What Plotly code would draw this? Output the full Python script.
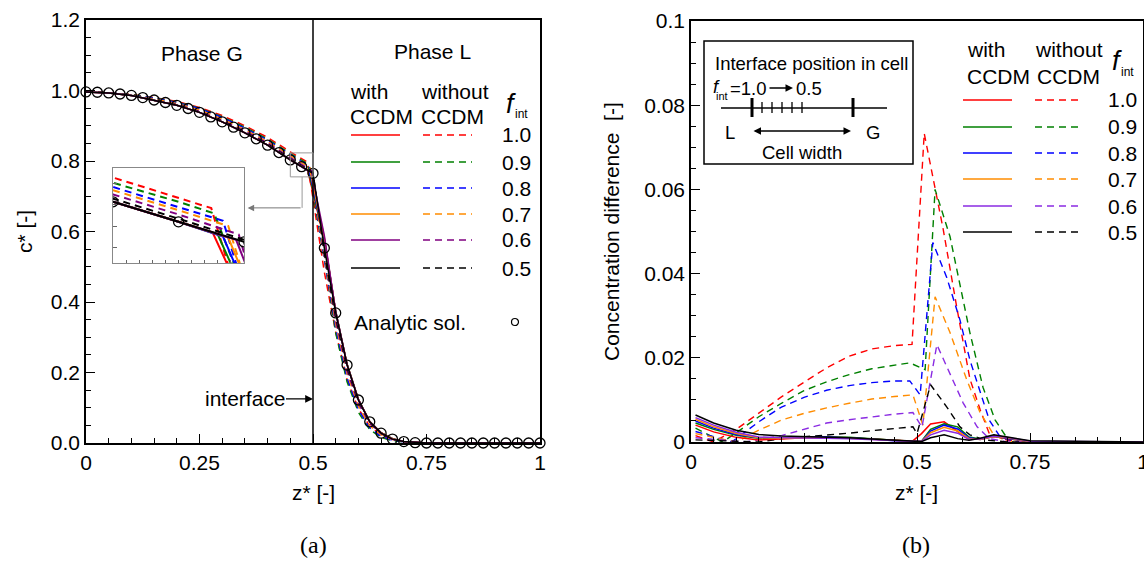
import plotly.graph_objects as go

W, H = 1144, 561
SANS = "Liberation Sans, Arial, sans-serif"
SERIF = "Liberation Serif, Times New Roman, serif"
FS = 21

# ------------------------------------------------------------------ data
f_int_labels = ["1.0", "0.9", "0.8", "0.7", "0.6", "0.5"]
colors_a = ["#ff0000", "#008000", "#0000ff", "#ff8c00", "#800080", "#000000"]
colors_b = ["#ff0000", "#008000", "#0000ff", "#ff8c00", "#8a2be2", "#000000"]

# (a) analytic solution
z_analytic = [0, 0.025, 0.05, 0.075, 0.1, 0.125, 0.15, 0.175, 0.2, 0.225, 0.25,
              0.275, 0.3, 0.325, 0.35, 0.375, 0.4, 0.425, 0.45, 0.475, 0.5,
              0.525, 0.55, 0.575, 0.6, 0.625, 0.65, 0.675, 0.7, 0.725, 0.75,
              0.775, 0.8, 0.825, 0.85, 0.875, 0.9, 0.925, 0.95, 0.975, 1.0]
c_analytic = [0.996, 0.995, 0.993, 0.990, 0.986, 0.980, 0.973, 0.966, 0.958, 0.949, 0.938,
              0.925, 0.911, 0.896, 0.880, 0.863, 0.845, 0.824, 0.803, 0.784, 0.765,
              0.553, 0.369, 0.221, 0.122, 0.060, 0.028, 0.011, 0.004, 0.001, 0.0,
              0.0, 0.0, 0.0, 0.0, 0.0, 0.0, 0.0, 0.0, 0.0, 0.0]

# (a) simulations: gas-side grid, interface kink, liquid-side grid
z_gas_a = [0, 0.05, 0.1, 0.15, 0.2, 0.25, 0.3, 0.35, 0.4, 0.45, 0.475]
z_liq_a = [0.525, 0.55, 0.575, 0.6, 0.625, 0.65, 0.675, 0.7, 0.75, 1.0]

c_gas_solid = [0.996, 0.993, 0.986, 0.973, 0.958, 0.938, 0.911, 0.880, 0.845, 0.803, 0.784]
kink_z_solid = [0.488, 0.490, 0.492, 0.494, 0.497, 0.500]
kink_c_solid = [0.774, 0.772, 0.770, 0.769, 0.767, 0.765]
c_liq_solid = [
    [0.575, 0.374, 0.224, 0.124, 0.061, 0.029, 0.012, 0.004, 0.0, 0.0],
    [0.578, 0.373, 0.224, 0.124, 0.061, 0.029, 0.012, 0.004, 0.0, 0.0],
    [0.580, 0.373, 0.223, 0.123, 0.061, 0.029, 0.012, 0.004, 0.0, 0.0],
    [0.583, 0.372, 0.223, 0.123, 0.061, 0.029, 0.012, 0.004, 0.0, 0.0],
    [0.588, 0.372, 0.222, 0.123, 0.060, 0.028, 0.011, 0.004, 0.0, 0.0],
    [0.553, 0.370, 0.222, 0.122, 0.060, 0.028, 0.011, 0.004, 0.0, 0.0],
]

c_gas_dash = [
    [0.997, 0.993, 0.989, 0.980, 0.969, 0.952, 0.929, 0.900, 0.867, 0.826, 0.807],
    [0.999, 0.993, 0.988, 0.979, 0.967, 0.950, 0.925, 0.896, 0.862, 0.821, 0.803],
    [0.998, 0.994, 0.987, 0.978, 0.966, 0.949, 0.923, 0.893, 0.859, 0.817, 0.798],
    [0.998, 0.994, 0.986, 0.976, 0.963, 0.945, 0.919, 0.889, 0.855, 0.814, 0.795],
    [0.997, 0.993, 0.986, 0.973, 0.960, 0.941, 0.915, 0.885, 0.851, 0.810, 0.791],
    [0.997, 0.993, 0.986, 0.973, 0.959, 0.939, 0.913, 0.882, 0.848, 0.806, 0.787],
]
kink_z_dash = [0.4875, 0.4886, 0.492, 0.494, 0.498, 0.500]
kink_c_dash = [0.797, 0.792, 0.785, 0.780, 0.772, 0.767]
c_liq_dash = [
    [0.485, 0.315, 0.179, 0.097, 0.048, 0.023, 0.010, 0.004, 0.0, 0.0],
    [0.523, 0.312, 0.174, 0.087, 0.038, 0.016, 0.006, 0.003, 0.0, 0.0],
    [0.518, 0.326, 0.185, 0.095, 0.043, 0.019, 0.008, 0.0035, 0.0, 0.0],
    [0.532, 0.337, 0.197, 0.104, 0.049, 0.023, 0.0095, 0.004, 0.0, 0.0],
    [0.541, 0.348, 0.205, 0.112, 0.055, 0.0265, 0.0106, 0.004, 0.0, 0.0],
    [0.539, 0.358, 0.214, 0.119, 0.059, 0.0275, 0.011, 0.004, 0.0, 0.0],
]

# (b) concentration difference
z_dash_b = [
    [0.01, 0.05, 0.1, 0.15, 0.2, 0.25, 0.3, 0.35, 0.4, 0.45, 0.489, 0.516, 0.535, 0.558, 0.588, 0.617, 0.64, 0.66, 0.7, 0.75, 1.0],
    [0.01, 0.07, 0.1, 0.15, 0.2, 0.25, 0.3, 0.35, 0.4, 0.45, 0.484, 0.518, 0.54, 0.573, 0.595, 0.617, 0.646, 0.673, 0.7, 0.75, 1.0],
    [0.01, 0.09, 0.15, 0.2, 0.25, 0.3, 0.35, 0.4, 0.45, 0.484, 0.507, 0.535, 0.566, 0.595, 0.617, 0.64, 0.66, 0.684, 0.72, 1.0],
    [0.01, 0.1, 0.15, 0.2, 0.25, 0.3, 0.35, 0.4, 0.45, 0.491, 0.513, 0.54, 0.573, 0.61, 0.64, 0.668, 0.7, 1.0],
    [0.01, 0.12, 0.2, 0.25, 0.3, 0.35, 0.4, 0.45, 0.491, 0.511, 0.544, 0.573, 0.602, 0.633, 0.66, 0.7, 1.0],
    [0.01, 0.15, 0.2, 0.25, 0.3, 0.35, 0.4, 0.45, 0.491, 0.5, 0.53, 0.566, 0.595, 0.617, 0.65, 0.7, 1.0],
]
d_dash_b = [
    [0.0015, 0.0, 0.003, 0.0068, 0.0107, 0.0142, 0.0176, 0.0204, 0.0221, 0.0229, 0.0232, 0.0733, 0.063, 0.0505, 0.032, 0.015, 0.0076, 0.002, 0.0004, 0.0, 0.0],
    [0.0033, 0.0, 0.0022, 0.006, 0.0092, 0.0122, 0.0143, 0.016, 0.0174, 0.0183, 0.0188, 0.0172, 0.060, 0.0488, 0.037, 0.026, 0.013, 0.0052, 0.0008, 0.0, 0.0],
    [0.0025, 0.0, 0.0048, 0.0083, 0.0106, 0.0123, 0.0134, 0.0141, 0.0145, 0.0145, 0.0112, 0.0474, 0.039, 0.029, 0.0195, 0.0117, 0.0052, 0.0012, 0.0, 0.0],
    [0.002, 0.0, 0.0028, 0.0052, 0.0068, 0.0081, 0.0092, 0.0102, 0.0108, 0.0112, 0.004, 0.0345, 0.026, 0.0148, 0.0069, 0.002, 0.0, 0.0],
    [0.001, 0.0, 0.0015, 0.003, 0.0045, 0.0053, 0.006, 0.0066, 0.007, 0.0035, 0.0231, 0.0164, 0.0093, 0.0036, 0.0008, 0.0, 0.0],
    [0.0005, 0.0, 0.0008, 0.0012, 0.0016, 0.0021, 0.0027, 0.0032, 0.0036, 0.002, 0.0136, 0.0083, 0.0036, 0.0017, 0.0005, 0.0, 0.0],
]
z_solid_b = [0.01, 0.05, 0.1, 0.15, 0.2, 0.25, 0.3, 0.35, 0.4, 0.45, 0.49, 0.51, 0.53, 0.56, 0.59, 0.615, 0.64, 0.67, 0.7, 0.75, 1.0]
d_solid_b = [
    [0.0040, 0.0024, 0.0011, 0.0005, 0.0007, 0.0010, 0.0011, 0.0010, 0.0007, 0.0004, 0.0002, 0.0020, 0.0043, 0.0048, 0.0026, 0.0006, 0.0008, 0.0013, 0.0008, 0.0001, 0.0],
    [0.0045, 0.0030, 0.0016, 0.0009, 0.0010, 0.0012, 0.0012, 0.0011, 0.0008, 0.0004, 0.0001, 0.0002, 0.0030, 0.0043, 0.0036, 0.0012, 0.0007, 0.0014, 0.0009, 0.0001, 0.0],
    [0.0050, 0.0033, 0.0018, 0.0010, 0.0010, 0.0012, 0.0012, 0.0010, 0.0007, 0.0003, 0.0001, 0.0001, 0.0026, 0.0040, 0.0031, 0.0010, 0.0006, 0.0013, 0.0009, 0.0001, 0.0],
    [0.0054, 0.0036, 0.0020, 0.0010, 0.0009, 0.0010, 0.0010, 0.0009, 0.0006, 0.0003, 0.0001, 0.0001, 0.0022, 0.0035, 0.0026, 0.0008, 0.0006, 0.0013, 0.0010, 0.0001, 0.0],
    [0.0058, 0.0040, 0.0023, 0.0012, 0.0010, 0.0010, 0.0009, 0.0008, 0.0006, 0.0003, 0.0001, 0.0001, 0.0017, 0.0028, 0.0021, 0.0006, 0.0007, 0.0014, 0.0011, 0.0002, 0.0],
    [0.0064, 0.0045, 0.0028, 0.0018, 0.0014, 0.0013, 0.0012, 0.0010, 0.0007, 0.0004, 0.0001, 0.0001, 0.0010, 0.0017, 0.0008, 0.0004, 0.0009, 0.0017, 0.0012, 0.0003, 0.0],
]

# ------------------------------------------------------------------ helpers
def X(px):
    return px / W


def Y(py):
    return 1 - py / H


DASH = "7px,5px"
fig = go.Figure()

# ---- (a) main + inset traces
for ax_x, ax_y, lw in (("x", "y", 1.5), ("x2", "y2", 2.0)):
    for i in range(6):
        fig.add_trace(go.Scatter(
            x=z_gas_a + [kink_z_dash[i]] + z_liq_a,
            y=c_gas_dash[i] + [kink_c_dash[i]] + c_liq_dash[i],
            mode="lines", xaxis=ax_x, yaxis=ax_y,
            line=dict(color=colors_a[i], width=lw, dash=DASH)))
    for i in range(6):
        fig.add_trace(go.Scatter(
            x=z_gas_a + [kink_z_solid[i]] + z_liq_a,
            y=c_gas_solid + [kink_c_solid[i]] + c_liq_solid[i],
            mode="lines", xaxis=ax_x, yaxis=ax_y,
            line=dict(color=colors_a[i], width=lw)))
    fig.add_trace(go.Scatter(
        x=z_analytic, y=c_analytic, mode="markers", xaxis=ax_x, yaxis=ax_y,
        cliponaxis=(ax_x == "x2"),
        marker=dict(symbol="circle-open", size=10, color="black",
                    line=dict(width=1.3, color="black"))))

# ---- (b) traces
for i in range(6):
    fig.add_trace(go.Scatter(
        x=z_dash_b[i], y=d_dash_b[i], mode="lines", xaxis="x3", yaxis="y3",
        line=dict(color=colors_b[i], width=1.4, dash=DASH)))
for i in range(6):
    fig.add_trace(go.Scatter(
        x=z_solid_b, y=d_solid_b[i], mode="lines", xaxis="x3", yaxis="y3",
        line=dict(color=colors_b[i], width=1.5)))

# ------------------------------------------------------------------ axes
tickfont = dict(family=SANS, size=FS, color="black")
common = dict(showgrid=False, zeroline=False, showline=True, linecolor="black",
              linewidth=1.5, mirror=True, ticks="inside", tickcolor="black",
              tickwidth=1.2, tickfont=tickfont, automargin=False,
              ticklabeloverflow="allow")
minor_x = dict(dtick=0.05, ticks="inside", ticklen=5, tickcolor="black", tickwidth=1.2)
inset_common = dict(showticklabels=False, showgrid=False, zeroline=False, showline=True,
                    linecolor="#888888", linewidth=1, mirror=True, ticks="inside",
                    tickcolor="#666666", tickwidth=1, automargin=False)

fig.update_layout(
    width=W, height=H, margin=dict(l=0, r=0, t=0, b=0, autoexpand=False),
    paper_bgcolor="white", plot_bgcolor="white", showlegend=False,
    xaxis=dict(domain=[X(86), X(540)], range=[0, 1], dtick=0.25, ticklen=9,
               minor=minor_x, anchor="y", **common),
    yaxis=dict(domain=[Y(443), Y(20)], range=[0, 1.2], dtick=0.2, ticklen=9,
               tickformat=".1f",
               minor=dict(dtick=0.05, ticks="inside", ticklen=5, tickcolor="black", tickwidth=1.2),
               anchor="x", **common),
    xaxis2=dict(domain=[X(113), X(244)], range=[0.45, 0.5], dtick=0.005, ticklen=3,
                anchor="y2", **inset_common),
    yaxis2=dict(domain=[Y(263), Y(168)], range=[0.745, 0.835], dtick=0.02, ticklen=4,
                anchor="x2", **inset_common),
    xaxis3=dict(domain=[X(691), X(1143)], range=[0, 1], dtick=0.25, ticklen=9,
                minor=minor_x, anchor="y3", **common),
    yaxis3=dict(domain=[Y(442), Y(21)], range=[0, 0.1], dtick=0.02, ticklen=9,
                minor=dict(dtick=0.005, ticks="inside", ticklen=5, tickcolor="black", tickwidth=1.2),
                anchor="x3", **common),
)

shapes = []
ann = []


def line_px(x0, y0, x1, y1, color="black", width=1.5, dash=None):
    d = dict(type="line", xref="paper", yref="paper", x0=X(x0), y0=Y(y0), x1=X(x1), y1=Y(y1),
             line=dict(color=color, width=width))
    if dash:
        d["line"]["dash"] = dash
    shapes.append(d)


def text_px(x, y, s, size=FS, xanchor="center", family=SANS, angle=0):
    ann.append(dict(x=X(x), y=Y(y), xref="paper", yref="paper", text=s, showarrow=False,
                    xanchor=xanchor, yanchor="middle", textangle=angle,
                    font=dict(family=family, size=size, color="black")))


# interface line in (a)
shapes.append(dict(type="line", xref="x", yref="y", x0=0.5, x1=0.5, y0=0, y1=1.2,
                   line=dict(color="black", width=1.5)))
# zoom rectangle and connector
shapes.append(dict(type="rect", xref="x", yref="y", x0=0.45, x1=0.5, y0=0.755, y1=0.823,
                   line=dict(color="#999999", width=1)))
shapes.append(dict(type="line", xref="x", yref="y", x0=0.476, x1=0.476, y0=0.755, y1=0.667,
                   line=dict(color="#999999", width=1)))
ann.append(dict(x=0.356, y=0.667, xref="x", yref="y", ax=0.476, ay=0.667, axref="x", ayref="y",
                text="", showarrow=True, arrowhead=2, arrowsize=1.3, arrowwidth=1,
                arrowcolor="#777777"))
# interface label
ann.append(dict(x=0.5, y=0.125, xref="x", yref="y", ax=-68, ay=0, text="interface",
                showarrow=True, arrowhead=2, arrowsize=1.2, arrowwidth=1.3, arrowcolor="black",
                font=dict(family=SANS, size=FS, color="black"), borderpad=0))

# phase labels
text_px(202, 54, "Phase G")
text_px(432, 52, "Phase L")

# legend (a)
text_px(348, 91, "with", xanchor="left")
text_px(348, 117, "CCDM", xanchor="left")
text_px(419, 91, "without", xanchor="left")
text_px(419, 117, "CCDM", xanchor="left")
text_px(511, 104, "<i>f</i>", size=27)
text_px(521, 114, "int", size=12)
rows_a = [135, 162, 188, 214, 240, 268]
for i, yy in enumerate(rows_a):
    line_px(351, yy, 400, yy, colors_a[i], 1.5)
    line_px(423, yy, 472, yy, colors_a[i], 1.5, DASH)
    text_px(516, yy, f_int_labels[i])
text_px(352, 322, "Analytic sol.", xanchor="left")
shapes.append(dict(type="circle", xref="paper", yref="paper", x0=X(511.5), x1=X(518.5),
                   y0=Y(325.5), y1=Y(318.5), line=dict(color="black", width=1.2)))

# legend (b)
text_px(965, 49, "with", xanchor="left")
text_px(965, 76, "CCDM", xanchor="left")
text_px(1033, 49, "without", xanchor="left")
text_px(1035, 76, "CCDM", xanchor="left")
text_px(1117, 61, "<i>f</i>", size=27)
text_px(1127, 72, "int", size=12)
rows_b = [100, 127, 153, 179, 206, 232]
for i, yy in enumerate(rows_b):
    line_px(963, yy, 1012, yy, colors_b[i], 1.5)
    line_px(1035, yy, 1083, yy, colors_b[i], 1.5, DASH)
    text_px(1122, yy, f_int_labels[i])

# box in (b)
shapes.append(dict(type="rect", xref="paper", yref="paper", x0=X(704), x1=X(913),
                   y0=Y(164), y1=Y(41), line=dict(color="black", width=1.5)))
text_px(811, 63, "Interface position in cell", size=18.5)
text_px(716, 86, "<i>f</i>", size=18.5)
text_px(722, 96, "int", size=11)
text_px(728, 88, "=1.0", size=18.5, xanchor="left")
ann.append(dict(x=X(793), y=Y(88), xref="paper", yref="paper", ax=-25, ay=0, text="",
                showarrow=True, arrowhead=2, arrowsize=1, arrowwidth=1.5, arrowcolor="black"))
text_px(794, 88, "0.5", size=18.5, xanchor="left")
line_px(721, 108, 887, 108, "black", 1.3)
line_px(752, 98, 752, 117, "black", 3)
line_px(853, 98, 853, 117, "black", 3)
for xx in (762, 772, 782, 792, 802):
    line_px(xx, 102, xx, 113, "black", 1.3)
text_px(730, 132, "L", size=18.5)
text_px(873, 132, "G", size=18.5)
ann.append(dict(x=X(851), y=Y(131), xref="paper", yref="paper", ax=-99, ay=0, text="",
                showarrow=True, arrowhead=2, arrowside="end+start", arrowsize=1,
                arrowwidth=1.5, arrowcolor="black"))
text_px(802, 152, "Cell width", size=18.5)

# axis titles and panel labels
text_px(24, 232, "c* [-]", angle=-90)
text_px(313, 492, "z* [-]")
text_px(611, 232, "Concentration difference\u00a0 [-]", angle=-90)
text_px(916, 492, "z* [-]")
text_px(313, 545, "(a)", size=24, family=SERIF)
text_px(916, 545, "(b)", size=24, family=SERIF)

fig.update_layout(shapes=shapes, annotations=ann)
fig.write_html("out.html")
